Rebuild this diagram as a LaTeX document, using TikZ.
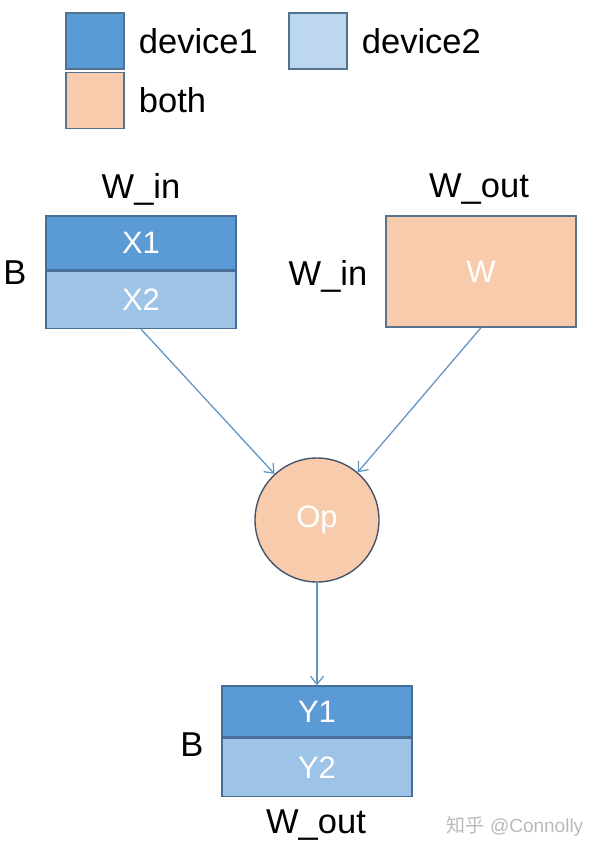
\documentclass[tikz,border=0pt]{standalone}
\usepackage{fontspec}
\setmainfont{Liberation Sans}
\newfontfamily\cjkfont{Noto Sans CJK SC}
\usetikzlibrary{arrows.meta,positioning}
\definecolor{devone}{RGB}{91,155,213}
\definecolor{devtwo}{RGB}{157,195,230}
\definecolor{devtwolight}{RGB}{189,215,238}
\definecolor{bothpeach}{RGB}{248,203,173}
\definecolor{edgeblue}{RGB}{70,110,150}
\definecolor{arrowblue}{RGB}{100,150,195}
\definecolor{opedge}{RGB}{68,84,106}

\begin{document}
\begin{tikzpicture}[x=1pt,y=-1pt,>={Straight Barb[length=8pt,width=13pt]},
  lbl/.style={font=\fontsize{34.5}{38}\selectfont,inner sep=0pt},
  celltext/.style={font=\fontsize{31}{34}\selectfont,text=white},
  legbox/.style={draw=edgeblue!80!gray,line width=1.4pt,minimum width=58pt,minimum height=56pt},
  cell/.style={draw=edgeblue,line width=1.4pt,minimum width=190pt,celltext},
  flow/.style={->,arrowblue,line width=1.3pt}]
  \useasboundingbox (0,0) rectangle (594,852);
  % legend
  \node[legbox,fill=devone] (keyone) at (95,41) {};
  \node[legbox,fill=bothpeach,below=2pt of keyone] (keyboth) {};
  \node[legbox,fill=devtwolight] (keytwo) at (318,41) {};
  \node[lbl,right=14pt of keyone] {device1};
  \node[lbl,right=14pt of keyboth] {both};
  \node[lbl,right=14pt of keytwo] {device2};
  % input X split over the batch
  \node[cell,fill=devone,minimum height=54pt] (xone) at (141,243) {X1};
  \node[cell,fill=devtwo,minimum height=57pt,below=0pt of xone] (xtwo) {X2};
  \node[lbl] at (141,189) {W\_in};
  \node[lbl] at (15,273) {B};
  % weight W held by both devices
  \node[cell,fill=bothpeach,draw=edgeblue!70!gray,minimum height=111pt] (wmat) at (481,271.5) {W};
  \node[lbl] at (479,189) {W\_out};
  \node[lbl] at (328,276) {W\_in};
  % operator
  \node[circle,draw=opedge,line width=1.4pt,fill=bothpeach,minimum size=124pt,celltext] (op) at (317,520) {Op};
  % output Y split over the batch
  \node[cell,fill=devone,minimum height=51pt] (yone) at (317,711.5) {Y1};
  \node[cell,fill=devtwo,minimum height=58pt,below=0pt of yone] (ytwo) {Y2};
  \node[lbl] at (192,745) {B};
  \node[lbl] at (316,825) {W\_out};
  \draw[flow] (xtwo.south) -- (op);
  \draw[flow] (wmat.south) -- (op);
  \draw[flow] (op.south) -- (yone.north);
  % watermark
  \node[text=gray!55,font=\fontsize{19}{22}\selectfont] at (515,826) {{\cjkfont 知乎} @Connolly};
\end{tikzpicture}
\end{document}
